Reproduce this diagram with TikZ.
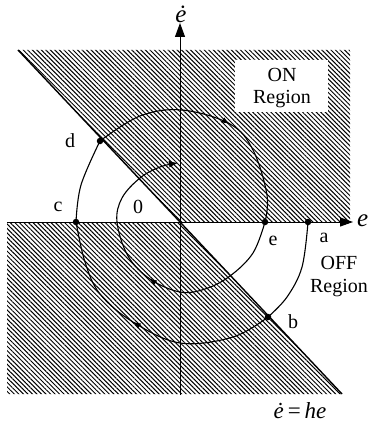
\documentclass[tikz,border=0pt]{standalone}
\usepackage{fontspec}
\setmainfont{Liberation Serif}
\usetikzlibrary{patterns.meta,arrows.meta,decorations.markings}
\tikzset{
  hatch/.style={pattern={Lines[angle=-45,distance=3.2pt,line width=1.0pt]}},
  traj/.style={line width=1.1pt},
  midarrow/.style={postaction={decorate},decoration={markings,mark=at position #1 with {\arrow{Latex[length=8pt,width=6pt]}}}},
  pt/.style={circle,fill=black,inner sep=0pt,minimum size=6.5pt},
  lbl/.style={font=\fontsize{20}{22}\selectfont,inner sep=0pt},
  axlbl/.style={font=\fontsize{25}{27}\selectfont\itshape,inner sep=0pt},
}
\begin{document}
\begin{tikzpicture}[x=1pt,y=-1pt]
\useasboundingbox (0,0) rectangle (375,425);
\fill[white] (0,0) rectangle (375,425);
% hatched regions
\fill[hatch] (18,50) -- (350,50) -- (350,222) -- (180,222) -- cycle;
\fill[hatch] (7,222) -- (180,222) -- (342,394) -- (7,394) -- cycle;
% ON region box
\node[fill=white,minimum width=93pt,minimum height=52pt,inner sep=0pt] (onbox) at (281.5,86) {};
\node[lbl] (on) at (282,75) {ON};
\node[lbl] (onr) at (282,99) {Region};
% switching line
\coordinate (sl1) at (18,50);
\coordinate (sl2) at (342,394);
\draw[line width=1.4pt] (sl1) -- (sl2);
% axes
\coordinate (xl) at (7,222);
\coordinate (xr) at (353,222);
\coordinate (yb) at (180,395);
\coordinate (yt) at (180,23);
\draw[line width=0.9pt,-{Triangle[length=13pt,width=9pt]}] (xl) -- (xr);
\draw[line width=0.9pt,-{Triangle[length=14pt,width=10pt]}] (yb) -- (yt);
\node[axlbl,anchor=west] (xlab) at (357,221) {e};
\node[axlbl] (ylab) at (181,14) {ė};
% key points
\coordinate (a) at (308,222);
\coordinate (b) at (268,317);
\coordinate (c) at (76,222);
\coordinate (d) at (100,141);
\coordinate (e) at (265,222);
\coordinate (f) at (178,163);
% trajectory
\draw[traj] plot[smooth,tension=0.6] coordinates {(a) (302,267) (287,297) (b)};
\draw[traj,midarrow=0.55] plot[smooth,tension=0.6] coordinates {(b) (233,337) (180,343) (133,322) (100,294) (85,262) (c)};
\draw[traj] plot[smooth,tension=0.6] coordinates {(c) (81,185) (d)};
\draw[traj,midarrow=0.56] plot[smooth,tension=0.6] coordinates {(d) (140,116) (182,110) (230,124) (253,150) (267,195) (e)};
\draw[traj,midarrow=0.49,-{Latex[length=9pt,width=7pt]}] plot[smooth,tension=0.6] coordinates {(e) (253,253) (230,276) (205,289) (180,292) (150,279) (128,256) (117,222) (122,198) (140,178) (160,167) (f)};
% dots
\node[pt] (pa) at (a) {};
\node[pt] (pb) at (b) {};
\node[pt] (pc) at (c) {};
\node[pt] (pd) at (d) {};
\node[pt] (pe) at (e) {};
% labels
\node[lbl] (la) at (324,238) {a};
\node[lbl] (loff) at (339,263) {OFF};
\node[lbl] (lreg) at (339,288) {Region};
\node[lbl] (lb) at (293,322) {b};
\node[lbl] (lc) at (58,207) {c};
\node[lbl] (ld) at (70,141) {d};
\node[lbl] (l0) at (138,207) {0};
\node[lbl] (le) at (273,241) {e};
\node[font=\fontsize{23}{25}\selectfont,inner sep=0pt] (eq) at (300,411) {\textit{ė}\,=\,\textit{he}};
\end{tikzpicture}
\end{document}
